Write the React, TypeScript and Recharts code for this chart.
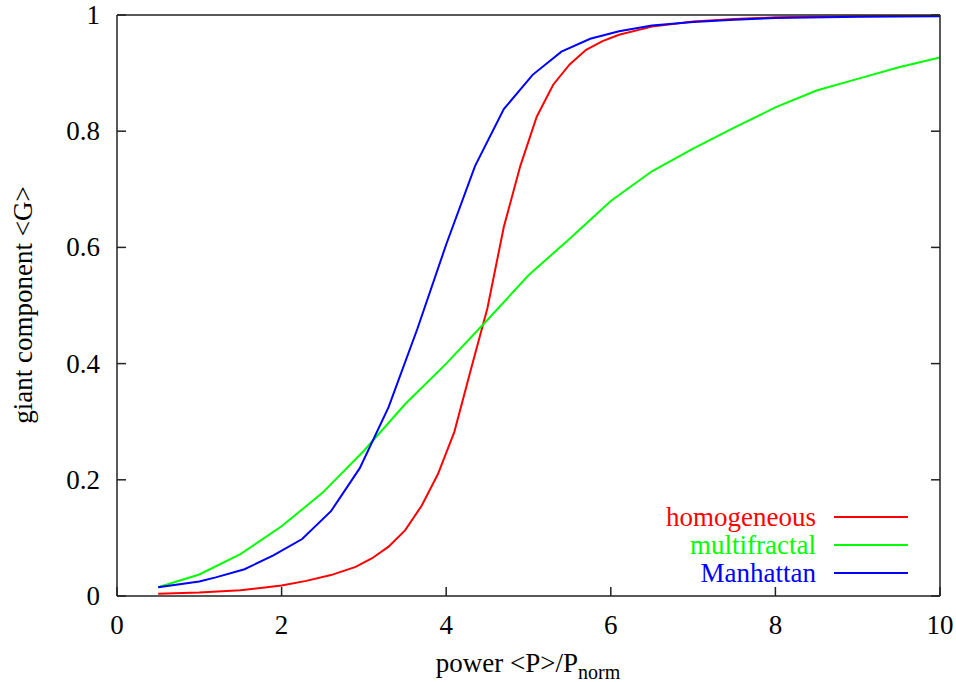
import React from "react";
import {
  LineChart,
  Line,
  XAxis,
  YAxis,
  Label,
} from "recharts";

// homogeneous (red)
const homX = [0.5, 1.0, 1.5, 2.0, 2.3, 2.6, 2.9, 3.1, 3.3, 3.5, 3.7, 3.9, 4.1, 4.3, 4.5, 4.7, 4.9, 5.1, 5.3, 5.5, 5.7, 5.9, 6.1, 6.5, 7.0, 7.5, 8.0, 9.0, 10];
const homY = [0.004, 0.006, 0.01, 0.018, 0.026, 0.036, 0.05, 0.065, 0.085, 0.113, 0.155, 0.21, 0.283, 0.39, 0.495, 0.635, 0.74, 0.825, 0.88, 0.915, 0.94, 0.955, 0.966, 0.98, 0.989, 0.993, 0.996, 0.998, 0.999];

// multifractal (green)
const mfX = [0.5, 1.0, 1.5, 2.0, 2.5, 3.0, 3.5, 4.0, 4.5, 5.0, 5.5, 6.0, 6.5, 7.0, 7.5, 8.0, 8.5, 9.0, 9.5, 10];
const mfY = [0.015, 0.037, 0.072, 0.12, 0.178, 0.25, 0.33, 0.4, 0.475, 0.552, 0.615, 0.68, 0.731, 0.77, 0.806, 0.841, 0.87, 0.89, 0.91, 0.927];

// Manhattan (blue)
const manX = [0.5, 1.0, 1.2, 1.55, 1.9, 2.25, 2.6, 2.95, 3.3, 3.65, 4.0, 4.35, 4.7, 5.05, 5.4, 5.75, 6.1, 6.5, 7.0, 7.5, 8.0, 9.0, 10];
const manY = [0.015, 0.025, 0.032, 0.046, 0.07, 0.098, 0.146, 0.22, 0.325, 0.46, 0.605, 0.74, 0.838, 0.897, 0.937, 0.959, 0.972, 0.982, 0.988, 0.992, 0.995, 0.997, 0.998];

const xTicks = [0, 2, 4, 6, 8, 10];
const yTicks = [0, 0.2, 0.4, 0.6, 0.8, 1];

const series = [
  { name: "homogeneous", color: "#ff0000", xs: homX, ys: homY },
  { name: "multifractal", color: "#00ff00", xs: mfX, ys: mfY },
  { name: "Manhattan", color: "#0000ff", xs: manX, ys: manY },
];

const FONT = "'Liberation Serif', 'Times New Roman', serif";
const FS = 27;
const AXIS = "#222";
const TICK = 9;

const BottomTick = ({ x, y, payload }: any) => (
  <g>
    <line x1={x} x2={x} y1={y} y2={y - TICK} stroke={AXIS} strokeWidth={1.5} />
    <text x={x} y={y + 38} textAnchor="middle" fontFamily={FONT} fontSize={FS} fill="#000">
      {payload.value}
    </text>
  </g>
);

const LeftTick = ({ x, y, payload }: any) => (
  <g>
    <line x1={x} x2={x + TICK} y1={y} y2={y} stroke={AXIS} strokeWidth={1.5} />
    <text x={x - 17} y={y + 9} textAnchor="end" fontFamily={FONT} fontSize={FS} fill="#000">
      {payload.value}
    </text>
  </g>
);

const TopTick = ({ x, y }: any) => (
  <line x1={x} x2={x} y1={y} y2={y + TICK} stroke={AXIS} strokeWidth={1.5} />
);

const RightTick = ({ x, y }: any) => (
  <line x1={x} x2={x - TICK} y1={y} y2={y} stroke={AXIS} strokeWidth={1.5} />
);

const LegendBox = () => (
  <div
    style={{
      position: "absolute",
      left: 560,
      top: 503,
      width: 348,
      fontFamily: FONT,
      fontSize: FS,
      lineHeight: "28px",
    }}
  >
    {series.map((s) => (
      <div key={s.name} style={{ display: "flex", alignItems: "center", justifyContent: "flex-end" }}>
        <span style={{ color: s.color }}>{s.name}</span>
        <span style={{ display: "inline-block", width: 74, height: 2, background: s.color, marginLeft: 18 }} />
      </div>
    ))}
  </div>
);

export default function App() {
  return (
    <div style={{ position: "absolute", left: 0, top: 0, width: 956, height: 682, background: "#fff" }}>
      <LineChart width={956} height={682} margin={{ top: 14, right: 15, bottom: 0, left: 0 }}>
        <XAxis
          type="number"
          dataKey="x"
          domain={[0, 10]}
          ticks={xTicks}
          height={86}
          tickSize={0}
          tickMargin={0}
          tick={<BottomTick />}
          stroke={AXIS}
          strokeWidth={1.5}
          allowDataOverflow
        >
          <Label
            content={() => (
              <text x={528} y={672} textAnchor="middle" fontFamily={FONT} fontSize={FS} fill="#000">
                power &lt;P&gt;/P
                <tspan fontSize={20} dy={7}>norm</tspan>
              </text>
            )}
          />
        </XAxis>
        <XAxis
          xAxisId="top"
          orientation="top"
          type="number"
          domain={[0, 10]}
          ticks={xTicks}
          height={1}
          tickSize={0}
          tickMargin={0}
          tick={<TopTick />}
          stroke={AXIS}
          strokeWidth={1.5}
          allowDataOverflow
        />
        <YAxis
          type="number"
          domain={[0, 1]}
          ticks={yTicks}
          width={117}
          tickSize={0}
          tickMargin={0}
          tick={<LeftTick />}
          stroke={AXIS}
          strokeWidth={1.5}
          allowDataOverflow
        >
          <Label
            content={() => (
              <text
                x={32}
                y={305}
                transform="rotate(-90 32 305)"
                textAnchor="middle"
                fontFamily={FONT}
                fontSize={FS}
                fill="#000"
              >
                giant component &lt;G&gt;
              </text>
            )}
          />
        </YAxis>
        <YAxis
          yAxisId="right"
          orientation="right"
          type="number"
          domain={[0, 1]}
          ticks={yTicks}
          width={1}
          tickSize={0}
          tickMargin={0}
          tick={<RightTick />}
          stroke={AXIS}
          strokeWidth={1.5}
          allowDataOverflow
        />
        {series.map((s) => (
          <Line
            key={s.name}
            name={s.name}
            data={s.xs.map((x, i) => ({ x, y: s.ys[i] }))}
            dataKey="y"
            type="linear"
            stroke={s.color}
            strokeWidth={2}
            dot={false}
            isAnimationActive={false}
          />
        ))}
      </LineChart>
      <LegendBox />
    </div>
  );
}
